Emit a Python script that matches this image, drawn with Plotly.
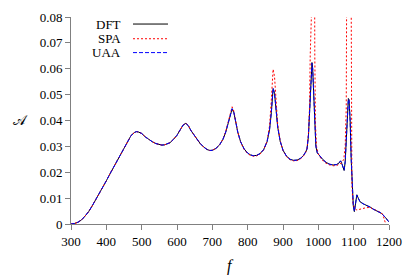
import plotly.graph_objects as go

# ---- DFT / UAA samples ----
f = [300, 310, 320, 330, 340, 350, 360, 370, 380, 390, 400, 410, 420, 430, 440, 450,
     460, 470, 480, 485, 490, 500, 510, 520, 530, 540, 550, 557, 565, 572, 580, 590,
     600, 610, 617, 625, 632, 640, 648, 656, 665, 675, 685, 693, 700, 710, 720, 730,
     738, 745, 750, 756, 761, 766, 772, 780, 790, 800, 808, 816, 825, 835, 845, 855,
     862, 867, 872, 876, 880, 885, 892, 900, 910, 920, 930, 940, 950, 958, 964, 968,
     972, 976, 979, 982, 984, 987, 990, 993, 997, 1003, 1012, 1022, 1032, 1042, 1052,
     1058, 1063, 1066, 1070, 1073, 1076, 1079, 1082, 1085, 1087, 1090, 1093, 1096, 1099,
     1102, 1105, 1109, 1113, 1118, 1127, 1137, 1147, 1156, 1168, 1179, 1190, 1199]

dft = [0.0, 0.0002, 0.0007, 0.0016, 0.0031, 0.0048, 0.0070, 0.0093, 0.0117, 0.0141,
       0.0167, 0.0193, 0.0218, 0.0244, 0.0268, 0.0294, 0.0320, 0.0342, 0.0354, 0.0357,
       0.0356, 0.0350, 0.0337, 0.0327, 0.0318, 0.0311, 0.0307, 0.0305, 0.0306, 0.0309,
       0.0314, 0.0327, 0.0343, 0.0366, 0.0382, 0.0389, 0.0380, 0.0360, 0.0343, 0.0328,
       0.0312, 0.0298, 0.0288, 0.0284, 0.0285, 0.0292, 0.0305, 0.0327, 0.0355, 0.0390,
       0.0418, 0.0445, 0.0430, 0.0395, 0.0355, 0.0318, 0.0290, 0.0274, 0.0267, 0.0264,
       0.0265, 0.0272, 0.0287, 0.0318, 0.0365, 0.0430, 0.0523, 0.0505, 0.0440, 0.0375,
       0.0320, 0.0285, 0.0262, 0.0250, 0.0246, 0.0247, 0.0254, 0.0265, 0.0278, 0.0290,
       0.0340, 0.0450, 0.0560, 0.0624, 0.0600, 0.0500, 0.0380, 0.0300, 0.0275, 0.0265,
       0.0250, 0.0238, 0.0231, 0.0228, 0.0230, 0.0235, 0.0244, 0.0235, 0.0212, 0.0207,
       0.0240, 0.0320, 0.0410, 0.0485, 0.0480, 0.0400, 0.0250, 0.0130, 0.0070, 0.0048,
       0.0080, 0.0113, 0.0100, 0.0086, 0.0078, 0.0073, 0.0065, 0.0057, 0.0049, 0.0041,
       0.0025, 0.0009]

uaa = [0.0, 0.0002, 0.0007, 0.0016, 0.0031, 0.0048, 0.0070, 0.0093, 0.0117, 0.0141,
       0.0167, 0.0193, 0.0218, 0.0244, 0.0268, 0.0294, 0.0320, 0.0342, 0.0354, 0.0357,
       0.0356, 0.0350, 0.0337, 0.0327, 0.0318, 0.0311, 0.0307, 0.0305, 0.0306, 0.0309,
       0.0314, 0.0327, 0.0343, 0.0366, 0.0382, 0.0389, 0.0380, 0.0360, 0.0343, 0.0328,
       0.0312, 0.0298, 0.0288, 0.0284, 0.0285, 0.0292, 0.0305, 0.0327, 0.0356, 0.0391,
       0.0419, 0.0446, 0.0431, 0.0395, 0.0355, 0.0318, 0.0290, 0.0274, 0.0267, 0.0264,
       0.0265, 0.0272, 0.0287, 0.0319, 0.0367, 0.0433, 0.0525, 0.0507, 0.0441, 0.0375,
       0.0320, 0.0285, 0.0262, 0.0250, 0.0246, 0.0247, 0.0254, 0.0265, 0.0278, 0.0291,
       0.0342, 0.0455, 0.0562, 0.0621, 0.0602, 0.0505, 0.0385, 0.0302, 0.0276, 0.0265,
       0.0250, 0.0238, 0.0231, 0.0228, 0.0230, 0.0235, 0.0244, 0.0236, 0.0213, 0.0208,
       0.0242, 0.0322, 0.0412, 0.0483, 0.0478, 0.0402, 0.0252, 0.0132, 0.0071, 0.0049,
       0.0079, 0.0112, 0.0100, 0.0086, 0.0078, 0.0073, 0.0065, 0.0057, 0.0049, 0.0041,
       0.0025, 0.0009]

# ---- SPA samples (diverges at the caustics) ----
f_spa = [300, 310, 320, 330, 340, 350, 360, 370, 380, 390, 400, 410, 420, 430, 440, 450,
         460, 470, 480, 485, 490, 500, 510, 520, 530, 540, 550, 557, 565, 572, 580, 590,
         600, 610, 617, 625, 632, 640, 648, 656, 665, 675, 685, 693, 700, 710, 720, 730,
         738, 745, 750, 756, 761, 766, 772, 780, 790, 800, 808, 816, 825, 835, 845, 855,
         862, 867, 872, 876, 880, 885, 892, 900, 910, 920, 930, 940, 950, 958, 964, 968,
         972, 975, 977, 978, 989, 990, 992, 995, 1000, 1008, 1018, 1030, 1042, 1052, 1060,
         1066, 1072, 1076, 1079, 1081, 1092, 1093, 1095, 1098, 1103, 1109, 1123, 1135,
         1146, 1160, 1170, 1179, 1184, 1187, 1190]

spa = [0.0, 0.0002, 0.0007, 0.0016, 0.0031, 0.0048, 0.0070, 0.0093, 0.0117, 0.0141,
       0.0167, 0.0193, 0.0218, 0.0244, 0.0268, 0.0294, 0.0320, 0.0342, 0.0354, 0.0357,
       0.0356, 0.0350, 0.0337, 0.0327, 0.0318, 0.0311, 0.0307, 0.0305, 0.0306, 0.0309,
       0.0314, 0.0327, 0.0343, 0.0366, 0.0383, 0.0390, 0.0381, 0.0360, 0.0343, 0.0328,
       0.0312, 0.0298, 0.0288, 0.0284, 0.0285, 0.0292, 0.0305, 0.0328, 0.0358, 0.0395,
       0.0425, 0.0453, 0.0436, 0.0398, 0.0355, 0.0316, 0.0288, 0.0272, 0.0265, 0.0262,
       0.0263, 0.0270, 0.0286, 0.0320, 0.0380, 0.0480, 0.0598, 0.0570, 0.0470, 0.0385,
       0.0322, 0.0284, 0.0260, 0.0248, 0.0244, 0.0245, 0.0252, 0.0263, 0.0276, 0.0292,
       0.0350, 0.0450, 0.0650, 0.1200, 0.1200, 0.0650, 0.0380, 0.0300, 0.0270, 0.0252,
       0.0238, 0.0229, 0.0225, 0.0226, 0.0230, 0.0236, 0.0250, 0.0300, 0.0450, 0.1200,
       0.1200, 0.0400, 0.0150, 0.0080, 0.0060, 0.0054, 0.0060, 0.0063, 0.0064, 0.0054,
       0.0049, 0.0043, 0.0030, 0.0015, 0.0003]

names = ["DFT", "SPA", "UAA"]
colors = ["#000000", "#ff0000", "#0000ff"]
dashes = ["solid", "2px,2px", "4px,2px"]
xs = [f, f_spa, f]
series = [dft, spa, uaa]

xticks = [300, 400, 500, 600, 700, 800, 900, 1000, 1100, 1200]
yticks = [0, 0.01, 0.02, 0.03, 0.04, 0.05, 0.06, 0.07, 0.08]
yticklabels = ["0", "0.01", "0.02", "0.03", "0.04", "0.05", "0.06", "0.07", "0.08"]

font = "Liberation Serif"
tfont = dict(family=font, size=13, color="black")

fig = go.Figure()
for n, c, d, x, s in zip(names, colors, dashes, xs, series):
    fig.add_trace(go.Scatter(x=x, y=s, mode="lines", name=n,
                             line=dict(color=c, width=1, dash=d), showlegend=False))

# legend drawn manually (text left of sample)
leg_y = [0.966, 0.895, 0.828]
for n, c, d, yy in zip(names, colors, dashes, leg_y):
    fig.add_annotation(x=0.165, y=yy, xref="paper", yref="paper", text=n,
                       showarrow=False, xanchor="right", yanchor="middle", font=tfont)
    fig.add_shape(type="line", xref="paper", yref="paper", x0=0.195, x1=0.305,
                  y0=yy, y1=yy, line=dict(color=c, width=1, dash=d))

fig.add_annotation(x=-0.188, y=0.5, xref="paper", yref="paper", text="𝒜",
                   showarrow=False, xanchor="left", yanchor="middle",
                   font=dict(family=font, size=14, color="black"))
fig.add_annotation(x=0.50, y=-0.205, xref="paper", yref="paper", text="<i>f</i>",
                   showarrow=False, xanchor="center", yanchor="middle",
                   font=dict(family=font, size=16, color="black"))

# page body has an 8px default margin, so the figure is offset by 8px
fig.update_layout(
    width=407, height=269,
    margin=dict(l=63, r=26, t=9, b=53),
    plot_bgcolor="white", paper_bgcolor="white",
    font=tfont,
    xaxis=dict(range=[300, 1200], tickvals=xticks, ticks="outside", ticklen=5,
               tickcolor="#808080", showline=True, linecolor="#808080", linewidth=1,
               showgrid=False, zeroline=False, automargin=False, tickfont=tfont),
    yaxis=dict(range=[0, 0.08], tickvals=yticks, ticktext=yticklabels, ticks="outside",
               ticklen=5, tickcolor="#808080", showline=True, linecolor="#808080",
               linewidth=1, showgrid=False, zeroline=False, automargin=False,
               tickfont=tfont),
)

fig.write_html("out.html")
